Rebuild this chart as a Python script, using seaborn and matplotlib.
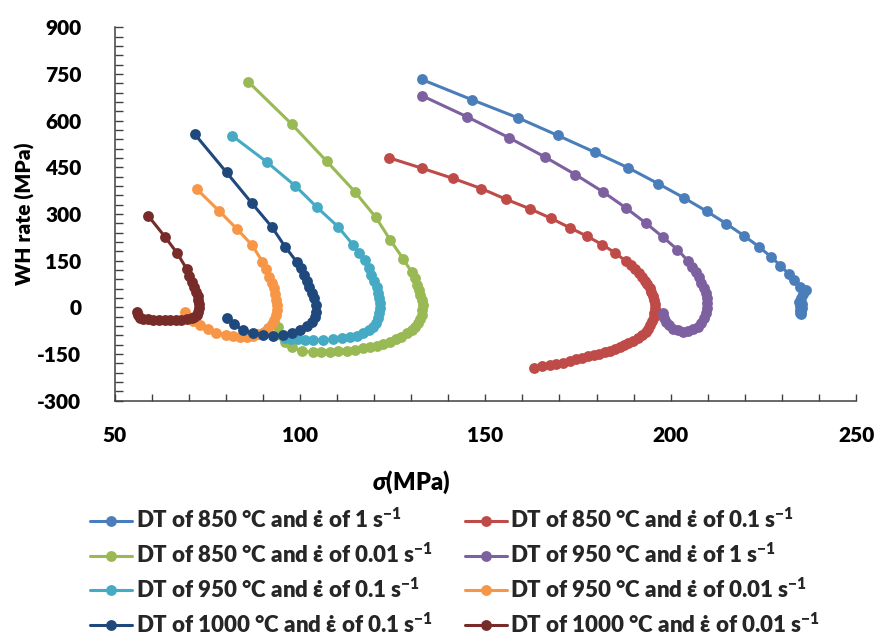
import numpy as np
import pandas as pd
import matplotlib
matplotlib.use("Agg")
import matplotlib.pyplot as plt
from matplotlib.lines import Line2D
from matplotlib.ticker import MultipleLocator
import seaborn as sns

# Series labels and colours
labels = [
    "DT of 850 °C and ε\u0307 of 1 s$^{-1}$",
    "DT of 850 °C and ε\u0307 of 0.1 s$^{-1}$",
    "DT of 850 °C and ε\u0307 of 0.01 s$^{-1}$",
    "DT of 950 °C and ε\u0307 of 1 s$^{-1}$",
    "DT of 950 °C and ε\u0307 of 0.1 s$^{-1}$",
    "DT of 950 °C and ε\u0307 of 0.01 s$^{-1}$",
    "DT of 1000 °C and ε\u0307 of 0.1 s$^{-1}$",
    "DT of 1000 °C and ε\u0307 of 0.01 s$^{-1}$",
]
colors = ["#4A7EBB", "#BE4B48", "#98B954", "#7D60A0",
          "#46AAC5", "#F79646", "#1F497D", "#772C2A"]

# Flow stress (MPa) and work-hardening rate (MPa) for each condition
s_850_1 = [132.8, 146.3, 158.7, 169.5, 179.5, 188.5, 196.6, 203.6, 209.7, 215.0,
           219.8, 223.8, 227.0, 229.6, 231.9, 233.4, 234.9, 236.4, 235.8, 235.2,
           234.6, 235.3, 234.8, 235.4, 234.9, 235.2, 234.8, 235.1]
wh_850_1 = [733, 668, 610, 553, 499, 449, 398, 352, 309, 269,
            230, 195, 163, 134, 107, 88, 66, 55, 42, 30,
            18, 12, 4, -3, -9, -14, -19, -22]

s_850_01 = [124.0, 133.0, 141.2, 148.9, 155.7, 162.0, 167.6, 172.8, 177.4, 181.5,
            184.9, 187.9, 189.2, 190.3, 191.4, 192.3, 193.1, 193.7, 194.3, 194.8,
            195.2, 195.5, 195.7, 195.7, 195.6, 195.4, 195.0, 194.5, 193.9, 193.3,
            192.3, 191.2, 189.9, 188.5, 187.4, 186.3, 185.0, 183.6, 182.2, 180.7,
            179.2, 177.7, 176.2, 174.6, 172.8, 171.0, 169.2, 167.4, 165.3, 163.2]
wh_850_01 = [481, 447, 415, 382, 347, 317, 287, 256, 229, 202,
             176, 149, 136, 123, 110, 98, 86, 75, 62, 50,
             36, 23, 10, -3, -17, -30, -44, -57, -68, -78,
             -89, -100, -108, -116, -122, -127, -133, -139, -145, -151,
             -153, -156, -162, -167, -172, -178, -181, -185, -190, -196]

s_850_001 = [86.1, 97.8, 107.2, 114.8, 120.5, 124.4, 127.8, 130.1, 131.0, 131.6,
             132.1, 132.5, 132.9, 133.1, 133.0, 132.8, 132.4, 131.9, 131.1, 130.1,
             128.9, 127.4, 125.9, 124.3, 122.5, 120.7, 118.9, 117.1, 114.8, 112.6,
             110.3, 108.1, 105.8, 103.6, 100.5, 97.8, 96.0, 94.8, 94.1]
wh_850_001 = [725, 589, 470, 372, 289, 216, 157, 114, 93, 72,
              56, 40, 23, 7, -9, -25, -38, -51, -62, -73,
              -84, -94, -102, -110, -117, -123, -128, -132, -136, -139,
              -141, -143, -144, -145, -140, -128, -110, -88, -64]

s_950_1 = [133.0, 145.2, 156.3, 166.0, 174.3, 181.8, 187.9, 193.4, 197.8, 201.8,
           204.7, 205.8, 206.7, 207.6, 208.3, 208.9, 209.4, 209.7, 209.9, 209.9,
           209.6, 209.1, 208.3, 207.3, 206.0, 204.7, 203.3, 201.9, 200.6, 199.6,
           198.8, 198.2, 197.9]
wh_950_1 = [680, 612, 546, 484, 427, 371, 320, 270, 227, 186,
            149, 131, 113, 96, 79, 63, 47, 30, 13, -3,
            -19, -35, -51, -62, -71, -76, -78, -74, -68, -58,
            -46, -33, -19]

s_950_01 = [81.8, 91.0, 98.8, 104.5, 110.3, 114.4, 116.0, 117.5, 118.5, 119.3,
            120.1, 120.7, 121.1, 121.4, 121.6, 121.6, 121.4, 121.1, 120.6, 119.8,
            118.6, 117.1, 115.4, 113.5, 111.3, 109.0, 106.3, 103.6, 101.5, 99.5,
            97.7, 96.0]
wh_950_01 = [551, 468, 390, 323, 259, 200, 176, 152, 128, 104,
             84, 64, 46, 29, 13, -3, -19, -35, -49, -62,
             -74, -84, -91, -96, -100, -103, -104, -105, -104, -103,
             -101, -98]

s_950_001 = [72.2, 78.2, 83.1, 87.1, 89.9, 90.9, 91.6, 92.4, 93.0, 93.3,
             93.5, 93.7, 93.7, 93.5, 93.0, 92.4, 91.5, 90.3, 88.8, 87.3,
             85.6, 83.8, 82.0, 80.0, 77.5, 75.2, 73.0, 71.1, 69.5, 69.0]
wh_950_001 = [380, 310, 251, 200, 147, 122, 98, 79, 61, 42,
              23, 7, -9, -25, -41, -55, -67, -78, -86, -91,
              -94, -94, -92, -88, -82, -71, -57, -43, -28, -16]

s_1000_01 = [71.7, 80.2, 87.1, 92.4, 96.0, 99.1, 100.2, 101.2, 101.9, 102.5,
             103.2, 103.8, 104.3, 104.4, 104.0, 103.2, 101.8, 100.0, 97.9, 95.5,
             92.8, 90.1, 87.4, 84.7, 82.3, 80.2]
wh_1000_01 = [556, 434, 334, 259, 195, 147, 125, 104, 85, 66,
              47, 29, 8, -14, -31, -46, -61, -73, -82, -89,
              -91, -89, -83, -73, -55, -33]

s_1000_001 = [59.1, 63.6, 66.9, 69.5, 70.2, 70.8, 71.5, 72.0, 72.4, 72.6,
              72.8, 72.8, 72.6, 72.2, 71.5, 70.8, 69.5, 68.0, 66.5, 65.0,
              63.5, 62.0, 60.5, 59.0, 57.8, 56.8, 56.2, 56.0]
wh_1000_001 = [294, 227, 174, 123, 102, 82, 66, 50, 36, 23,
               10, -3, -14, -25, -31, -35, -38, -40, -40, -40,
               -40, -40, -40, -39, -37, -33, -25, -14]

stress = [s_850_1, s_850_01, s_850_001, s_950_1, s_950_01, s_950_001, s_1000_01, s_1000_001]
whrate = [wh_850_1, wh_850_01, wh_850_001, wh_950_1, wh_950_01, wh_950_001, wh_1000_01, wh_1000_001]

frames = []
for lab, s, w in zip(labels, stress, whrate):
    frames.append(pd.DataFrame({"sigma": s, "wh": w, "series": lab}))
df = pd.concat(frames, ignore_index=True)

sns.set_theme(style="white")
plt.rcParams["font.family"] = ["Lato", "DejaVu Sans"]
plt.rcParams["font.weight"] = "heavy"
plt.rcParams["axes.unicode_minus"] = False
plt.rcParams["mathtext.fontset"] = "custom"
plt.rcParams["mathtext.rm"] = "Lato:heavy"
plt.rcParams["mathtext.bf"] = "Lato:heavy"
plt.rcParams["mathtext.it"] = "Lato:italic:heavy"

fig = plt.figure(figsize=(8.77, 6.38), dpi=100)
ax = fig.add_axes([0.1306, 0.372, 0.8455, 0.585])

sns.lineplot(data=df, x="sigma", y="wh", hue="series", hue_order=labels,
             palette=colors, sort=False, estimator=None, marker="o",
             markersize=7.8, markeredgewidth=0, linewidth=2.2, legend=False, ax=ax)

ax.set_xlim(50, 250)
ax.set_ylim(-300, 900)
ax.xaxis.set_major_locator(MultipleLocator(50))
ax.xaxis.set_minor_locator(MultipleLocator(10))
ax.yaxis.set_major_locator(MultipleLocator(150))
ax.yaxis.set_minor_locator(MultipleLocator(30))

axis_col = "#404040"
for side in ["top", "right"]:
    ax.spines[side].set_visible(False)
for side in ["left", "bottom"]:
    ax.spines[side].set_color(axis_col)
    ax.spines[side].set_linewidth(1.1)

ax.tick_params(axis="x", which="both", direction="in", length=5, width=1.0,
               color=axis_col, bottom=True, pad=18.5)
ax.tick_params(axis="y", which="both", direction="in", length=6, width=1.0,
               color=axis_col, left=True, pad=24)
for lbl in ax.get_xticklabels() + ax.get_yticklabels():
    lbl.set_fontweight("heavy")
    lbl.set_fontsize(15)
    lbl.set_color("black")

ax.set_xlabel(r"$\sigma$(MPa)", fontsize=17, fontweight="heavy", color="black")
ax.xaxis.set_label_coords(0.40, -0.183)
ax.set_ylabel("WH rate (MPa)", fontsize=15, fontweight="heavy", color="black")
ax.yaxis.set_label_coords(-0.107, 0.5)

# legend laid out row by row: fill column 1 with even entries, column 2 with odd
order = [0, 2, 4, 6, 1, 3, 5, 7]
handles = [Line2D([], [], color=colors[i], marker="o", markersize=7.8,
                  markeredgewidth=0, linewidth=2.2) for i in order]
fig.legend(handles, [labels[i] for i in order], loc="upper left",
           bbox_to_anchor=(0.1026, 0.204), ncol=2, frameon=False, fontsize=16,
           handlelength=1.9, handletextpad=0.15, columnspacing=1.45,
           labelspacing=0.47, borderpad=0, borderaxespad=0)

fig.savefig("out.png", dpi=100)
